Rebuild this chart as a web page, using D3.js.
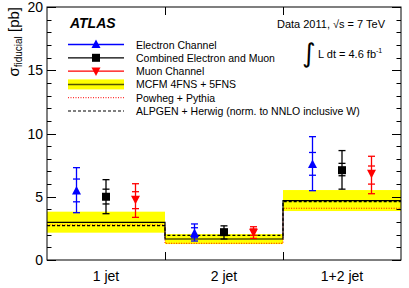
<!DOCTYPE html>
<html>
<head>
<meta charset="utf-8">
<script src="https://cdn.jsdelivr.net/npm/d3@7"></script>
<style>
  body { margin: 0; background: #fff; }
  text { font-family: "Liberation Sans", Arial, sans-serif; }
</style>
</head>
<body>
<script>
const width = 409;
const height = 288;

// categories and measured values
const bins = ["1 jet", "2 jet", "1+2 jet"];
const channels = ["Electron Channel", "Combined Electron and Muon", "Muon Channel"];
const electron = [5.45, 2.1, 7.55];
const electronStat = [[4.6, 6.4], [1.76, 2.55], [6.7, 8.5]];
const electronTot = [[3.74, 7.3], [1.5, 2.85], [5.48, 9.75]];
const combined = [5.0, 2.2, 7.1];
const combinedStat = [[4.43, 5.6], [2.0, 2.4], [6.66, 7.64]];
const combinedTot = [[3.66, 6.35], [1.66, 2.7], [5.6, 8.65]];
const muon = [4.8, 2.2, 6.85];
const muonStat = [[4.06, 5.4], [1.95, 2.45], [6.0, 7.43]];
const muonTot = [[3.37, 6.03], [1.71, 2.63], [5.24, 8.2]];

// predictions
const mcfm = [2.98, 1.66, 4.69];
const mcfmLow = [2.16, 1.26, 3.87];
const mcfmHigh = [3.82, 2.05, 5.53];
const powheg = [2.77, 1.32, 4.09];
const alpgen = [2.71, 1.95, 4.61];

const yTicks = [0, 5, 10, 15, 20];

let margin = { top: 7, right: 8, bottom: 28, left: 47 };

let svg = d3.select("body").append("svg")
  .attr("width", width)
  .attr("height", height);

let xScale = d3.scaleBand()
  .domain(bins)
  .range([margin.left, width - margin.right]);

let yScale = d3.scaleLinear()
  .domain([0, 20])
  .range([height - margin.bottom, margin.top]);

let x0 = margin.left, x1 = width - margin.right;
let y0 = height - margin.bottom, y1 = margin.top;

// yellow MCFM band
svg.append("g").selectAll("rect")
  .data(bins)
  .join("rect")
  .attr("x", (d) => xScale(d))
  .attr("width", xScale.bandwidth())
  .attr("y", (d, i) => yScale(mcfmHigh[i]))
  .attr("height", (d, i) => yScale(mcfmLow[i]) - yScale(mcfmHigh[i]))
  .attr("fill", "#ffff00");

// histogram style step lines
function stepLine(values) {
  let pts = [];
  bins.forEach((b, i) => {
    pts.push([xScale(b), yScale(values[i])]);
    pts.push([xScale(b) + xScale.bandwidth(), yScale(values[i])]);
  });
  return d3.line()(pts);
}

svg.append("path").attr("d", stepLine(powheg))
  .attr("fill", "none").attr("stroke", "#ff0000").attr("stroke-width", 1)
  .attr("stroke-dasharray", "1,1.5");
svg.append("path").attr("d", stepLine(mcfm))
  .attr("fill", "none").attr("stroke", "#000").attr("stroke-width", 1.2);
svg.append("path").attr("d", stepLine(alpgen))
  .attr("fill", "none").attr("stroke", "#000").attr("stroke-width", 1.2)
  .attr("stroke-dasharray", "3,2");

// frame
svg.append("rect")
  .attr("x", x0).attr("y", y1)
  .attr("width", x1 - x0).attr("height", y0 - y1)
  .attr("fill", "none").attr("stroke", "#000").attr("stroke-width", 1);

// y ticks, drawn inward on both sides
let minor = d3.range(0, 21, 1);
let ticks = svg.append("g").attr("stroke", "#000").attr("stroke-width", 1);
minor.forEach((v) => {
  let len = v % 5 === 0 ? 9 : 4.5;
  let y = Math.round(yScale(v)) + 0.5;
  ticks.append("line").attr("x1", x0).attr("x2", x0 + len).attr("y1", y).attr("y2", y);
  ticks.append("line").attr("x1", x1).attr("x2", x1 - len).attr("y1", y).attr("y2", y);
});
// x ticks at bin boundaries
bins.slice(1).forEach((b) => {
  let x = Math.round(xScale(b)) + 0.5;
  ticks.append("line").attr("x1", x).attr("x2", x).attr("y1", y0).attr("y2", y0 - 8);
  ticks.append("line").attr("x1", x).attr("x2", x).attr("y1", y1).attr("y2", y1 + 8);
});

svg.append("g").selectAll("text")
  .data(yTicks)
  .join("text")
  .attr("x", x0 - 4)
  .attr("y", (d) => yScale(d) + 5)
  .attr("text-anchor", "end")
  .style("font-size", "14px")
  .text((d) => d);

svg.append("g").selectAll("text")
  .data(bins)
  .join("text")
  .attr("x", (d) => xScale(d) + xScale.bandwidth() / 2)
  .attr("y", 281)
  .attr("text-anchor", "middle")
  .style("font-size", "14px")
  .text((d) => d);

// y axis title
let yt = svg.append("text")
  .attr("text-anchor", "end")
  .attr("transform", `translate(19, 7) rotate(270)`)
  .style("font-size", "15px");
yt.append("tspan").text("σ");
yt.append("tspan").attr("dy", 3).style("font-size", "10px").text("fiducial");
yt.append("tspan").attr("dy", -3).text(" [pb]");

// data points
let series = [
  { name: channels[0], vals: electron, stat: electronStat, tot: electronTot, color: "#0000ff", shape: "up", off: 0.25 },
  { name: channels[1], vals: combined, stat: combinedStat, tot: combinedTot, color: "#000000", shape: "sq", off: 0.5 },
  { name: channels[2], vals: muon, stat: muonStat, tot: muonTot, color: "#ff0000", shape: "down", off: 0.75 },
];

function marker(g, shape, color, cx, cy) {
  if (shape === "sq") {
    g.append("rect").attr("x", cx - 4).attr("y", cy - 4).attr("width", 8).attr("height", 8).attr("fill", color);
  } else if (shape === "up") {
    g.append("path").attr("d", `M${cx},${cy - 5}L${cx + 4.5},${cy + 3.5}L${cx - 4.5},${cy + 3.5}Z`).attr("fill", color);
  } else {
    g.append("path").attr("d", `M${cx},${cy + 5}L${cx + 4.5},${cy - 3.5}L${cx - 4.5},${cy - 3.5}Z`).attr("fill", color);
  }
}

series.forEach((s) => {
  let g = svg.append("g").attr("stroke", s.color).attr("stroke-width", 1.3);
  bins.forEach((b, i) => {
    let cx = xScale(b) + xScale.bandwidth() * s.off;
    g.append("line").attr("x1", cx).attr("x2", cx)
      .attr("y1", yScale(s.tot[i][0])).attr("y2", yScale(s.tot[i][1]));
    [s.tot[i][0], s.tot[i][1], s.stat[i][0], s.stat[i][1]].forEach((v) => {
      g.append("line").attr("x1", cx - 3.5).attr("x2", cx + 3.5)
        .attr("y1", yScale(v)).attr("y2", yScale(v));
    });
    marker(g.append("g").attr("stroke", "none"), s.shape, s.color, cx, yScale(s.vals[i]));
  });
});

// labels
svg.append("text").attr("x", 70).attr("y", 28)
  .style("font-size", "14px").style("font-weight", "bold").style("font-style", "italic")
  .text("ATLAS");
svg.append("text").attr("x", 385).attr("y", 28).attr("text-anchor", "end")
  .style("font-size", "11px")
  .text("Data 2011, √s = 7 TeV");
svg.append("text").attr("x", 302).attr("y", 62)
  .style("font-size", "26px").style("font-family", "DejaVu Sans")
  .text("∫");
let lum = svg.append("text").attr("x", 318).attr("y", 58).style("font-size", "11px");
lum.append("tspan").text("L dt = 4.6 fb");
lum.append("tspan").attr("dy", -5).style("font-size", "7px").text("-1");

// legend
let legend = [
  { label: channels[0], type: "pt", color: "#0000ff", shape: "up" },
  { label: channels[1], type: "pt", color: "#000000", shape: "sq" },
  { label: channels[2], type: "pt", color: "#ff0000", shape: "down" },
  { label: "MCFM 4FNS + 5FNS", type: "band" },
  { label: "Powheg + Pythia", type: "dot" },
  { label: "ALPGEN + Herwig (norm. to NNLO inclusive W)", type: "dash" },
];
let lx0 = 68, lx1 = 124;
legend.forEach((d, i) => {
  let y = 44.5 + i * 13.3;
  let g = svg.append("g");
  if (d.type === "pt") {
    g.append("line").attr("x1", lx0).attr("x2", lx1).attr("y1", y).attr("y2", y)
      .attr("stroke", d.color).attr("stroke-width", 1.3);
    marker(g, d.shape, d.color, (lx0 + lx1) / 2, y);
  } else if (d.type === "band") {
    g.append("rect").attr("x", lx0).attr("y", y - 5).attr("width", lx1 - lx0).attr("height", 10).attr("fill", "#ffff00");
    g.append("line").attr("x1", lx0).attr("x2", lx1).attr("y1", y).attr("y2", y)
      .attr("stroke", "#555500").attr("stroke-width", 1.5);
  } else if (d.type === "dot") {
    g.append("line").attr("x1", lx0).attr("x2", lx1).attr("y1", y).attr("y2", y)
      .attr("stroke", "#ff0000").attr("stroke-width", 1).attr("stroke-dasharray", "1,1.5");
  } else {
    g.append("line").attr("x1", lx0).attr("x2", lx1).attr("y1", y).attr("y2", y)
      .attr("stroke", "#000").attr("stroke-width", 1.2).attr("stroke-dasharray", "3,2");
  }
  g.append("text").attr("x", 136).attr("y", y + 4)
    .style("font-size", "10.5px").text(d.label);
});
</script>
</body>
</html>
